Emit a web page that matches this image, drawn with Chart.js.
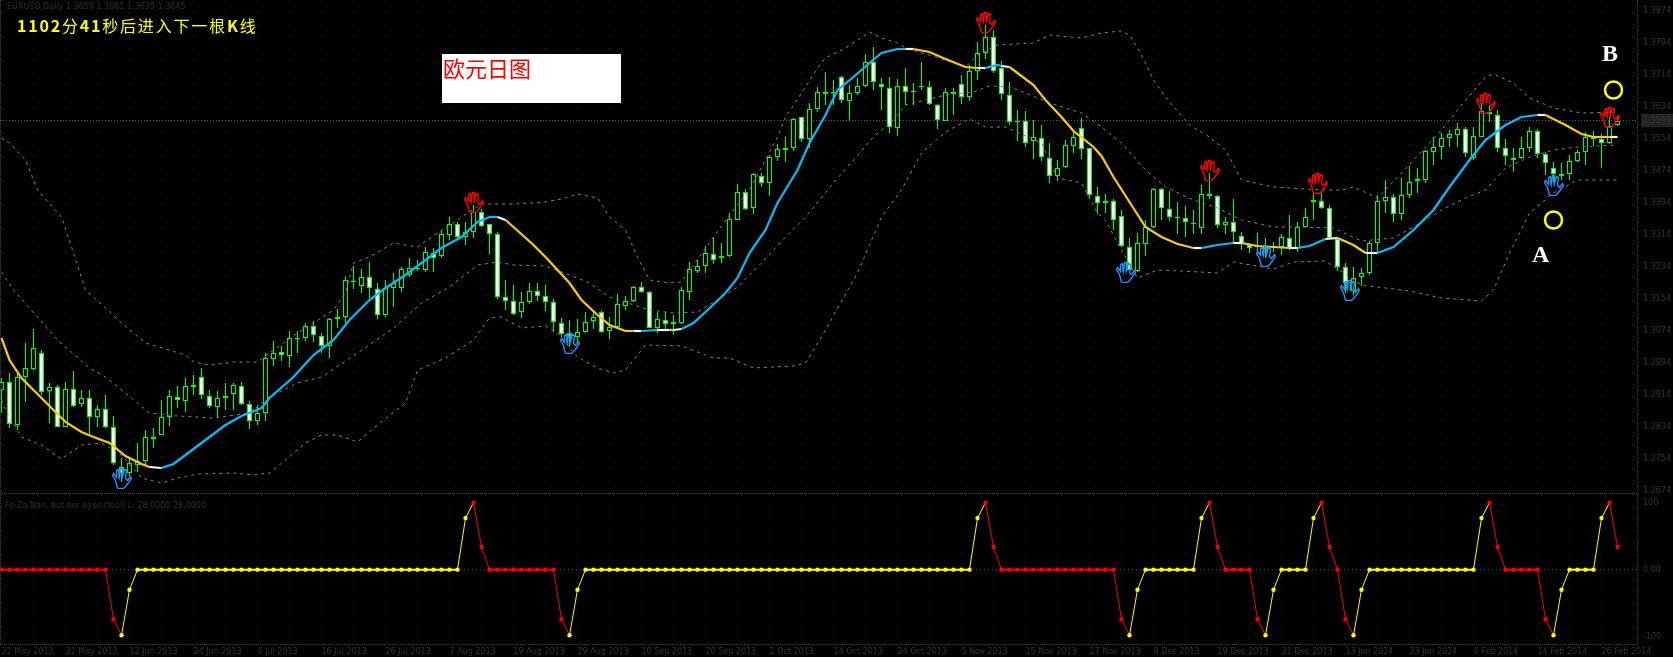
<!DOCTYPE html>
<html lang="en">
<head>
<meta charset="UTF-8">
<title>欧元日图</title>
<script src="https://cdn.jsdelivr.net/npm/chart.js@4"></script>
<style>
  html, body { margin: 0; background: #000; }
  #page { position: relative; width: 1673px; height: 657px; overflow: hidden; background: #000; }
  canvas { position: absolute; left: 0; }
  .label { position: absolute; white-space: nowrap; line-height: 1; }
  .frame { position: absolute; }
  .dim { color: #2e2e2e; font: 8px "DejaVu Sans", sans-serif; }
</style>
</head>
<body>
<div id="page">
  <canvas id="main" width="1673" height="494" style="top:0"></canvas>
  <canvas id="sub" width="1673" height="163" style="top:494px"></canvas>

  <div class="frame" style="left:0;top:493px;width:1637px;border-top:1px dotted #444"></div>
  <div class="frame" style="left:0;top:644px;width:1637px;border-top:1px dotted #444"></div>
  <div class="frame" style="left:1637px;top:0;height:644px;border-left:1px dotted #3a3a3a"></div>
  <div class="frame" style="left:0;top:0;height:644px;border-left:1px dotted #3a3a3a"></div>

  <div class="label dim" style="left:7px;top:2px">EURUSD,Daily 1.3659 1.3661 1.3639 1.3645</div>
  <div class="label dim" style="left:5px;top:501px">Fe-Za Nan, but our eyes (tool) L. 28.0000 28.0000</div>
  <div class="label" style="left:17px;top:13px;color:#ff0;font:16px 'Noto Sans CJK SC',sans-serif;letter-spacing:1.8px"><b>1102</b>分<b>41</b>秒后进入下一根<b>K</b>线</div>
  <div class="frame" style="left:442px;top:54px;width:179px;height:49px;background:#fff"></div>
  <div class="label" style="left:443px;top:51px;color:#f00;font:22px 'Noto Sans CJK SC',sans-serif">欧元日图</div>
  <div class="label" style="left:1532px;top:241px;color:#fff;font:bold 24px 'Liberation Serif',serif">A</div>
  <div class="label" style="left:1602px;top:40px;color:#fff;font:bold 24px 'Liberation Serif',serif">B</div>
</div>

<script>
// prices are in points above the lower chart edge, the axis text in the picture is unreadable
const opens = [
  110,118,75,123,131,147,109,113,73,111,96,102,83,91,73,33,27,35,39,63,
  65,83,103,99,113,123,104,93,102,106,114,96,79,87,141,148,144,161,162,174,
  164,154,181,183,218,214,223,211,185,212,212,225,232,230,247,244,265,276,263,268,
  288,276,266,203,199,188,198,209,204,198,177,167,163,168,179,188,169,173,194,199,
  213,208,172,180,176,177,208,229,234,246,242,244,280,308,292,324,317,343,350,352,
  383,361,391,406,407,423,399,407,414,438,416,412,372,414,408,413,413,395,379,408,
  416,403,429,447,463,432,405,378,379,359,362,342,324,333,354,372,352,304,297,299,
  284,253,229,256,273,311,291,282,282,277,272,304,304,275,278,264,255,254,251,253,
  253,262,252,273,298,299,292,261,233,209,223,227,257,299,303,286,305,319,320,348,
  353,362,365,371,342,363,388,385,352,340,342,352,369,346,332,324,326,339,348,363,
  361,357,375];
const highs = [
  122,127,127,157,171,150,117,115,118,129,110,110,95,105,84,42,43,57,70,72,
  100,110,114,122,125,132,110,109,117,117,118,99,95,147,159,154,169,169,177,179,
  167,182,191,224,234,231,238,217,220,227,233,242,240,253,252,270,283,278,278,295,
  291,276,268,220,215,208,217,217,215,201,182,180,181,188,190,189,183,206,204,214,
  218,209,188,188,185,213,238,240,254,263,257,287,316,311,327,327,345,356,363,382,
  383,397,413,428,420,424,415,422,446,453,422,423,421,432,417,438,419,396,412,412,
  425,435,458,475,470,439,418,390,389,380,375,357,340,360,370,382,352,313,306,301,
  290,262,267,280,312,312,309,298,294,290,315,327,305,283,301,268,257,267,262,258,
  266,285,278,292,308,307,295,263,237,233,232,259,305,320,306,322,334,332,350,363,
  367,370,377,373,373,397,395,390,361,352,363,373,371,348,338,337,345,350,368,369,
  366,383,383];
const lows = [
  87,72,70,98,130,105,77,73,73,93,93,65,73,72,35,18,24,28,35,52,
  65,74,92,88,105,101,92,82,90,90,95,71,75,79,134,139,133,147,159,158,
  147,142,172,177,211,207,202,181,183,193,208,223,229,228,228,242,260,261,255,262,
  273,246,201,190,185,182,196,199,189,168,163,153,157,167,171,167,161,172,190,198,
  207,172,167,169,165,176,200,227,227,236,237,243,280,290,286,313,304,339,338,349,
  358,352,388,395,395,397,379,405,413,410,390,367,364,395,395,410,395,371,379,385,
  396,399,420,441,427,400,375,359,353,341,339,317,319,332,347,341,301,286,287,270,
  253,227,228,244,272,280,279,266,263,266,266,301,272,266,257,250,247,247,242,248,
  245,250,248,273,280,291,261,229,207,205,214,225,248,287,278,280,302,307,317,335,
  341,353,353,343,340,363,378,348,335,328,341,348,342,325,318,320,320,338,335,354,
  332,356,374];
const closes = [
  118,76,123,132,152,108,113,73,111,94,102,83,91,73,37,27,37,39,63,61,
  83,104,100,114,115,105,94,102,104,115,96,79,87,142,147,145,162,162,174,165,
  154,181,183,220,219,223,212,185,212,217,231,232,231,248,242,266,276,263,268,288,
  274,266,203,199,186,198,209,204,198,178,166,163,168,178,183,168,173,196,199,213,
  208,172,181,176,178,210,231,234,247,240,244,281,308,291,326,317,343,351,352,381,
  361,391,408,408,408,400,407,414,438,418,413,373,414,408,409,414,396,380,408,406,
  403,429,447,463,429,406,378,379,357,363,343,324,332,355,363,351,305,297,299,280,
  254,230,257,273,311,292,283,283,278,276,306,306,275,278,268,256,252,253,253,254,
  263,252,273,283,300,292,262,233,217,222,227,257,299,303,286,305,318,321,349,353,
  362,366,371,347,364,389,386,352,344,342,352,369,346,337,326,326,339,348,363,361,
  357,374,379];

const maBars = [
  0,1,2.5,4,6,8,10,11.5,13.5,15.5,17.5,18.5,20,21.5,23,25.5,28,30,32.5,33.5,
  36.5,39,41.5,43.5,46,48,50.5,52.5,55,57.5,59.5,61,62,63,64,66.5,68,71,72.5,74.5,
  76,78,79,80,82,83.5,84,85,86.5,88,90.5,92,93.5,95.5,97,99.5,101,103,104.5,106.5,
  108.5,110,112,113,114,116,118,120.5,122,123,124.5,125,126,127,129,130.5,132.5,134,136.5,137.5,
  139,141,143,145,147,149,150,152,154,155,157,161,162,163.5,165.5,167,169,170.5,172,174,
  176.5,179,181,183.5,185.5,188,190,192,193,195.5,197.5,199,201,202];
const maValues = [
  162,140,122,110,94,78,68,63,57,44,36,33,32,36,45,60,75,84,92,102,
  123,145,160,180,200,212,225,237,252,263,278,283,283,280,273,255,243,217,200,185,
  175,169,169,169,170,170,170,171,177,188,207,222,247,270,297,330,357,385,410,423,
  437,447,451,451,451,448,441,433,432,432,435,434,433,427,415,400,383,369,353,344,
  323,298,273,263,256,252,252,255,257,257,254,252,252,254,261,262,255,247,247,253,
  270,290,313,340,360,375,383,385,385,375,366,363,363,363];
// where the average changes phase, and what it changes to
const maPhaseStarts = [0,18.5,20,62,63,79,80,82,83.5,84,85,113,114,122,123,125,126,149,150,154,155,161,162,165.5,167,170.5,172,192,193,201];
const maPhases = ['down','flat','up','flat','down','flat','up','flat','down','flat','up','flat','down','flat','up','flat','down','flat','up','flat','down','flat','up','flat','down','flat','up','flat','down','flat'];

const upperBars = [
  0,1,3,4.5,7.5,9,10.5,13,15,18,20.5,23,24,26,29,32,33.5,37,39,41.5,
  43,44,46,49,52,54.5,57.5,60,64,68,70,72,74.5,76,78,79.5,81,83.5,85,86.5,
  91,93.5,97,98,100.5,102,103,105.5,108.5,110,112,113,118,120.5,122,124.5,129,131,135,137.5,
  140,141,142.5,144,146,148.5,151,153,155,159,165,167.5,169,172,175,180,182.5,185.5,186.5,189,
  191,194,197.5,202];
const upperValues = [
  362,357,340,310,283,247,210,192,177,157,151,145,138,135,138,138,147,167,177,190,
  207,237,243,257,253,267,283,296,296,298,301,306,302,283,270,243,220,217,218,235,
  285,310,363,383,413,432,442,452,468,462,457,452,440,433,445,455,457,465,462,467,
  469,465,445,420,398,375,363,350,320,313,310,310,313,302,327,370,395,423,426,417,
  402,392,387,388];
const middleBars = [
  0,1.5,4.5,7,11,13,15.5,18.5,22,26.5,31,33.5,37,40,44.5,49,52.5,56,59.5,62,
  64,68,71,73.5,76,81,84,87,89.5,92,95,98,100.5,104,106.5,109,111.5,113,118,121.5,
  123.5,126,128,131,135,137.5,140,143,145.5,149,152,155,159,162.5,166.5,170,174,176.5,180,183,
  185.5,188,191,194,197,202];
const middleValues = [
  228,210,183,160,132,123,107,87,84,82,87,103,117,123,147,172,197,213,235,238,
  235,234,225,217,203,190,187,188,200,213,237,263,283,317,340,363,380,395,405,408,
  414,413,407,397,387,373,357,330,313,300,292,280,273,273,272,259,262,273,290,302,
  310,332,343,350,353,355];
const lowerBars = [
  0,0.5,2.5,5,7.5,10,12.5,15,17.5,20,22,24.5,29,31.5,33.5,35.5,38,40,42,44.5,
  47,50.5,52,55.5,59,61,62.5,65,68,69.5,72,74.5,76.5,78,80.5,85,89,91,94,99,
  100.5,103,107,110,112.5,115,118,121,123,125.5,130,132,135,137,138,139.5,142,144.5,147.5,152,
  154,159,161.5,165.5,168.5,170,176,180,185,186.5,188.5,191,194,197,202];
const lowerValues = [
  100,90,63,55,41,55,57,45,22,17,22,26,27,25,27,40,57,65,65,58,
  75,97,130,142,160,182,183,172,174,167,143,132,127,130,155,154,142,142,132,134,
  137,170,227,283,310,347,368,381,373,373,357,322,317,287,280,257,222,230,229,227,
  238,231,238,239,223,215,209,202,199,210,247,287,307,320,320];

const redHandBars = [59,123,151,164.5,185.5,201];
const redHandValues = [298,478,330,317,397,383];
const blueHandBars = [15,71,140.5,158,168.5,194];
const blueHandValues = [22,157,228,244,210,315];
const circleBars = [201.5,194];
const circleValues = [410,280];
const currentPrice = 379.5;

// lower window, one value per bar
const signal = [
  0,0,0,0,0,0,0,0,0,0,0,0,0,0,-74,-98,-30,0,0,0,
  0,0,0,0,0,0,0,0,0,0,0,0,0,0,0,0,0,0,0,0,
  0,0,0,0,0,0,0,0,0,0,0,0,0,0,0,0,0,0,77,100,
  34,0,0,0,0,0,0,0,0,0,-74,-98,-30,0,0,0,0,0,0,0,
  0,0,0,0,0,0,0,0,0,0,0,0,0,0,0,0,0,0,0,0,
  0,0,0,0,0,0,0,0,0,0,0,0,0,0,0,0,0,0,0,0,
  0,0,77,100,34,0,0,0,0,0,0,0,0,0,0,0,0,0,0,0,
  -74,-98,-30,0,0,0,0,0,0,0,77,100,34,0,0,0,0,-74,-98,-30,
  0,0,0,0,77,100,34,0,-74,-98,-30,0,0,0,0,0,0,0,0,0,
  0,0,0,0,0,77,100,34,0,0,0,0,0,-74,-98,-30,0,0,0,0,
  77,100,34];
const signalTicks = [100, 0, -100];

const timeLabels = [
  '21 May 2013','31 May 2013','12 Jun 2013','24 Jun 2013','4 Jul 2013','16 Jul 2013','26 Jul 2013',
  '7 Aug 2013','19 Aug 2013','29 Aug 2013','10 Sep 2013','20 Sep 2013','2 Oct 2013','14 Oct 2013',
  '24 Oct 2013','5 Nov 2013','15 Nov 2013','27 Nov 2013','9 Dec 2013','19 Dec 2013','31 Dec 2013',
  '13 Jan 2014','23 Jan 2014','4 Feb 2014','14 Feb 2014','26 Feb 2014'];

const GREEN = '#00ff00', YELLOW = '#ffcc00', SKY = '#00bfff', RED = '#ff0000', SIG_YELLOW = '#ffff00';
const AXIS_FONT = { family: 'DejaVu Sans', size: 8 };
const AXIS_TEXT = '#333333';
const GRID = '#2c2c2c';
const phaseColours = { down: YELLOW, flat: '#ffffff', up: SKY };

const xMin = -0.1875, xMax = 204.4375;
const pts = (xs, ys) => xs.map((x, i) => ({ x: x, y: ys[i] }));

function phaseAt(bar) {
  let phase = maPhases[0];
  maPhaseStarts.forEach((s, i) => { if (bar >= s) phase = maPhases[i]; });
  return phase;
}

// the hand arrows, drawn once and used as point styles
function handSymbol(colour) {
  const c = document.createElement('canvas');
  c.width = 21; c.height = 22;
  const g = c.getContext('2d');
  const outline = [[6,21],[4,13],[1,8],[2,6],[5,10],[5,3],[7,2],[8,9],[9,1],[11,1],[11,9],[13,2],[15,3],[14,11],[16,13],[19,9],[20,11],[15,18],[12,21],[6,21]];
  g.strokeStyle = colour;
  g.lineWidth = 1.4;
  g.beginPath();
  outline.forEach((p, i) => i ? g.lineTo(p[0] + 0.5, p[1] + 0.5) : g.moveTo(p[0] + 0.5, p[1] + 0.5));
  g.moveTo(7.5, 6); g.lineTo(8, 11);
  g.moveTo(11.5, 5); g.lineTo(11, 11);
  g.stroke();
  return c;
}

const fixAxisX = s => { s.height = s.options.ticks.display ? 13 : 0; s.paddingLeft = 0; s.paddingRight = 0; };
const fixAxisY = s => { s.width = 36; s.paddingTop = 0; s.paddingBottom = 0; };

function timeAxis(showLabels) {
  return {
    type: 'linear', min: xMin, max: xMax, offset: false,
    afterBuildTicks: s => {
      const ticks = [];
      for (let b = 0; b <= 200; b += 4) ticks.push({ value: b });
      ticks.push({ value: 204 });
      s.ticks = ticks;
    },
    afterFit: fixAxisX,
    grid: { color: GRID, drawTicks: false, offset: false },
    border: { display: false, dash: [1, 11] },
    ticks: {
      display: showLabels, autoSkip: false, maxRotation: 0, align: 'start', padding: 3,
      color: AXIS_TEXT, font: AXIS_FONT,
      callback: v => (v % 8 === 0 && timeLabels[v / 8]) || ''
    }
  };
}

const wicks = opens.map((o, i) => ({ x: i, y: [lows[i], highs[i]] }));
const bodies = opens.map((o, i) => ({ x: i, y: [Math.min(o, closes[i]), Math.max(o, closes[i])] }));
const bodyFill = opens.map((o, i) => closes[i] < o ? '#ffffff' : '#000000');
const priceTicks = [489.5,457.5,425.5,393.5,379.5,361.5,329.5,297.5,265.5,233.5,201.5,169.5,137.5,105.5,73.5,41.5,9.5];

const band = (xs, ys) => ({
  type: 'line', data: pts(xs, ys), order: 3, borderColor: '#808080', borderWidth: 1,
  borderDash: [3, 4], pointRadius: 0, tension: 0
});

new Chart(document.getElementById('main'), {
  type: 'bar',
  data: {
    datasets: [
      { type: 'line', data: [{ x: xMin, y: currentPrice }, { x: xMax, y: currentPrice }], order: 7, borderColor: '#5a5a5a', borderWidth: 1, borderDash: [1, 2], pointRadius: 0 },
      { data: wicks, order: 6, backgroundColor: GREEN, borderWidth: 0, barThickness: 1, grouped: false, inflateAmount: 0 },
      { data: bodies, order: 5, backgroundColor: bodyFill, borderColor: GREEN, borderWidth: 1, borderSkipped: false, barThickness: 5, grouped: false, inflateAmount: 0 },
      band(upperBars, upperValues),
      band(middleBars, middleValues),
      band(lowerBars, lowerValues),
      {
        type: 'line', data: pts(maBars, maValues), order: 2, borderWidth: 2.2, pointRadius: 0, tension: 0,
        borderColor: YELLOW,
        segment: { borderColor: c => phaseColours[phaseAt(c.p0.parsed.x)] }
      },
      { type: 'line', data: pts(redHandBars, redHandValues), order: 1, showLine: false, pointStyle: handSymbol(RED), pointRadius: 11 },
      { type: 'line', data: pts(blueHandBars, blueHandValues), order: 1, showLine: false, pointStyle: handSymbol('#1e90ff'), pointRadius: 11 },
      { type: 'line', data: pts(circleBars, circleValues), order: 1, showLine: false, pointStyle: 'circle', pointRadius: 8.5, pointBorderWidth: 2.5, pointBorderColor: SIG_YELLOW, pointBackgroundColor: 'rgba(0,0,0,0)' }
    ]
  },
  options: {
    responsive: false, animation: false, devicePixelRatio: 1,
    layout: { padding: 0, autoPadding: false },
    plugins: { legend: { display: false }, tooltip: { enabled: false } },
    scales: {
      x: timeAxis(false),
      y: {
        position: 'right', min: 6, max: 500,
        afterBuildTicks: s => { s.ticks = priceTicks.map(v => ({ value: v })); },
        afterFit: fixAxisY,
        grid: { drawOnChartArea: false, drawTicks: false },
        border: { display: false },
        ticks: {
          autoSkip: false, padding: 6, color: AXIS_TEXT, font: AXIS_FONT,
          showLabelBackdrop: c => c.tick.value === currentPrice,
          backdropColor: '#242424', backdropPadding: 2,
          callback: v => (1.265 + v * 0.00025).toFixed(4)
        }
      }
    }
  }
});

// yellow while rising, red while falling, a flat stretch keeps the colour it had
const signalColours = [];
let signalState = RED;
signal.forEach((v, i) => {
  const next = signal[i + 1];
  if (next > v) signalState = SIG_YELLOW;
  if (next < v) signalState = RED;
  signalColours.push(signalState);
});

new Chart(document.getElementById('sub'), {
  type: 'line',
  data: {
    datasets: [
      { data: [{ x: xMin, y: 0 }, { x: xMax, y: 0 }], order: 2, borderColor: '#4a4a4a', borderWidth: 1, borderDash: [1, 3], pointRadius: 0 },
      {
        data: signal.map((v, i) => ({ x: i, y: v })), order: 1, tension: 0,
        borderColor: RED, borderWidth: 1,
        segment: {
          borderColor: c => signalColours[c.p0DataIndex],
          borderWidth: c => c.p0.parsed.y === c.p1.parsed.y ? 2 : 1
        },
        pointRadius: 2.2, pointBorderWidth: 0,
        pointBackgroundColor: signalColours
      }
    ]
  },
  options: {
    responsive: false, animation: false, devicePixelRatio: 1,
    layout: { padding: 0, autoPadding: false },
    plugins: { legend: { display: false }, tooltip: { enabled: false } },
    scales: {
      x: timeAxis(true),
      y: {
        position: 'right', min: -111, max: 113,
        afterBuildTicks: s => { s.ticks = signalTicks.map(v => ({ value: v })); },
        afterFit: fixAxisY,
        grid: { drawOnChartArea: false, drawTicks: false },
        border: { display: false },
        ticks: {
          autoSkip: false, padding: 6, color: AXIS_TEXT, font: AXIS_FONT,
          callback: v => v === 0 ? '0.00' : String(v)
        }
      }
    }
  }
});
</script>
</body>
</html>
